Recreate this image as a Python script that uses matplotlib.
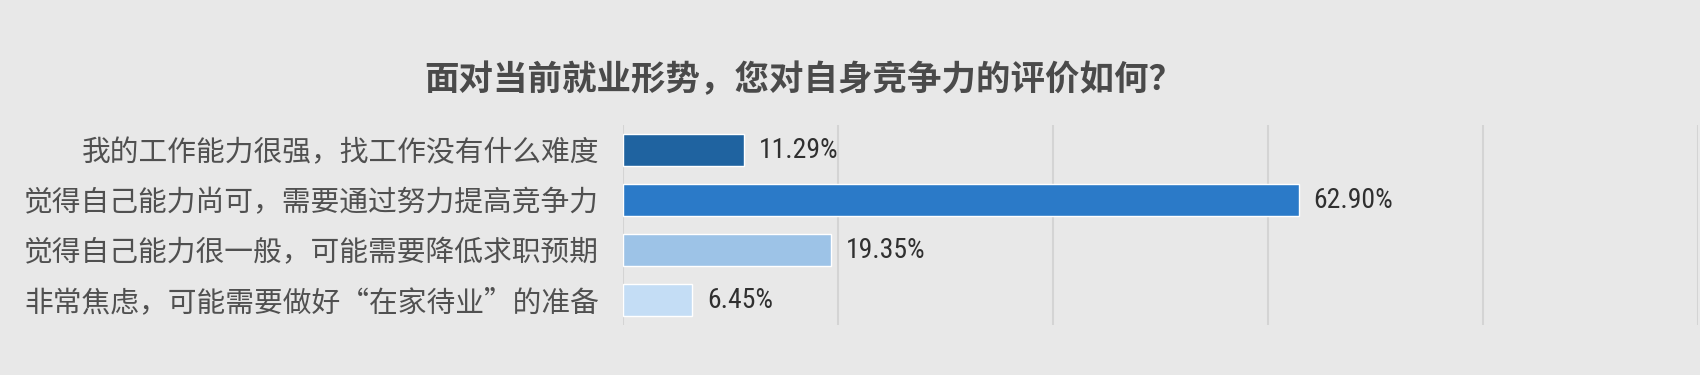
import matplotlib
matplotlib.use("Agg")
import matplotlib.pyplot as plt
from matplotlib import font_manager

plt.rcParams['font.family'] = ['Noto Sans CJK SC', 'DejaVu Sans']

categories = [
    "我的工作能力很强，找工作没有什么难度",
    "觉得自己能力尚可，需要通过努力提高竞争力",
    "觉得自己能力很一般，可能需要降低求职预期",
    "非常焦虑，可能需要做好“在家待业”的准备",
]
values = [11.29, 62.90, 19.35, 6.45]
value_labels = ["11.29%", "62.90%", "19.35%", "6.45%"]
colors = ["#1F63A0", "#2B7AC8", "#9DC3E7", "#C4DDF5"]
title = "面对当前就业形势，您对自身竞争力的评价如何？"

names = {f.name for f in font_manager.fontManager.ttflist}
narrow = [n for n in ["Liberation Sans Narrow", "Roboto Condensed", "Open Sans Condensed"] if n in names]
num_font = narrow[0] if narrow else "Liberation Sans"
num_size = 20 if narrow else 18

bg = "#E8E8E8"
fig = plt.figure(figsize=(17, 3.75), dpi=100, facecolor=bg)
ax = fig.add_axes([623/1700, 50/375, (1698-623)/1700, 200/375])
ax.set_facecolor(bg)

y = list(range(len(categories)))
ax.barh(y, values, height=0.63, color=colors, edgecolor="white", linewidth=1, zorder=3)
ax.set_ylim(len(categories) - 0.5, -0.5)
ax.set_xlim(0, 100)
ax.set_xticks([0, 20, 40, 60, 80, 100])
ax.set_xticklabels([])
ax.tick_params(axis='x', length=0)
ax.tick_params(axis='y', length=0, pad=17)
ax.set_yticks(y)
ax.set_yticklabels(categories, fontsize=20.7, color="#505050")
ax.grid(axis='x', color="#D4D4D4", linewidth=1.5, zorder=0)
for s in ax.spines.values():
    s.set_visible(False)

for yi, v, lab in zip(y, values, value_labels):
    ax.text(v + 1.35, yi, lab, va='center', ha='left', fontsize=num_size,
            color="#303030", family=[num_font, 'DejaVu Sans'])

fig.text(804/1700, 1 - 80/375, title, ha='center', va='center', fontsize=24.8,
         fontweight='bold', color="#4A4A4A")

fig.savefig("out.png", dpi=100, facecolor=bg)
